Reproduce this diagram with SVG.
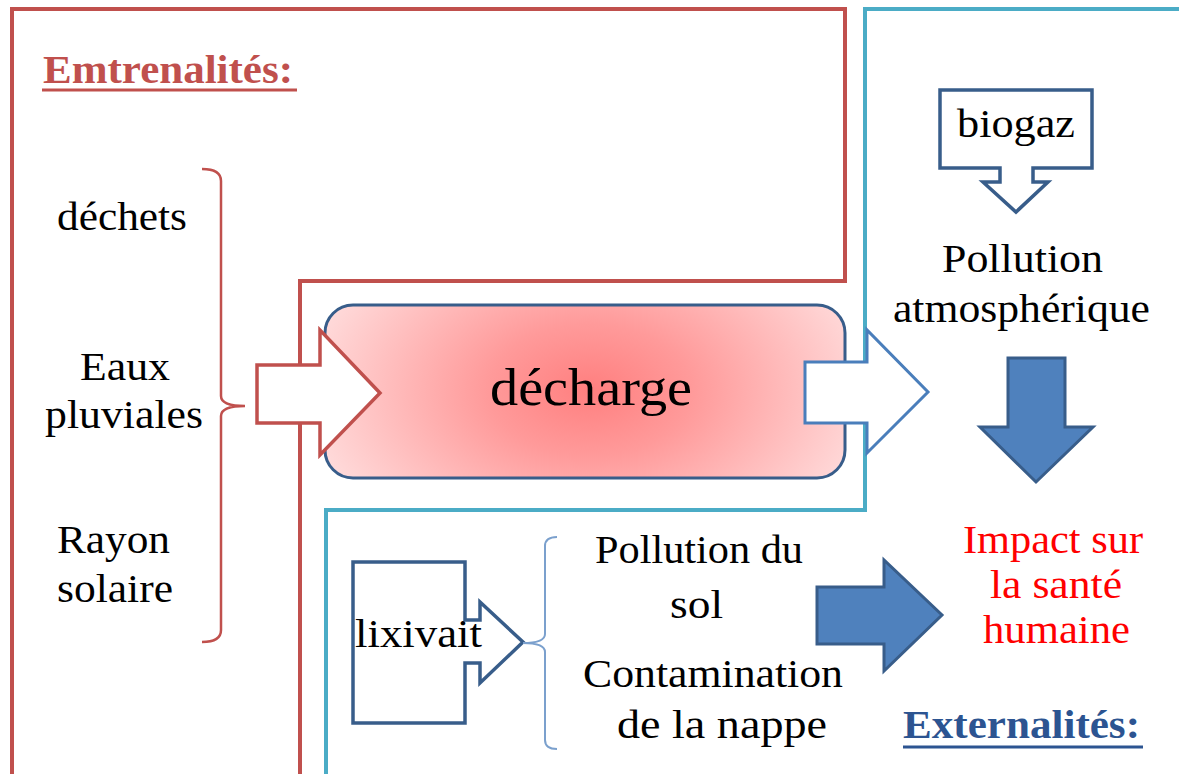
<svg xmlns="http://www.w3.org/2000/svg" width="1179" height="774" viewBox="0 0 1179 774">
  <style>
    .red { fill: #C0504D; }
    .impact { fill: #FF0000; }
    .ext { fill: #2C5491; }
    .hollowRed { fill: #fff; stroke: #C0504D; stroke-width: 3.5; }
    .hollowBlue { fill: #fff; stroke: #4A7EBB; stroke-width: 3; }
    .callout { fill: #fff; stroke: #385D8A; stroke-width: 3.5; }
    .solid { fill: #4F81BD; stroke: #385D8A; stroke-width: 3; }
  </style>
  <defs>
    <radialGradient id="g" gradientUnits="userSpaceOnUse" cx="590" cy="390" r="290" gradientTransform="translate(590 390) scale(1 0.65) translate(-590 -390)">
      <stop offset="0" stop-color="#FF7F7F"/>
      <stop offset="0.35" stop-color="#FF9A9A"/>
      <stop offset="1" stop-color="#FFDCDC"/>
    </radialGradient>
  </defs>
  <rect width="1179" height="774" fill="#fff"/>

  <g id="internal-zone">
    <path d="M12,776 L12,9 L845,9 L845,281 L300,281 L300,776" fill="none" stroke="#C0504D" stroke-width="4"/>
  </g>
  <g id="external-zone">
    <path d="M326,776 L326,510 L865,510 L865,9 L1181,9" fill="none" stroke="#4BACC6" stroke-width="4"/>
  </g>

  <g id="decharge">
    <rect x="325" y="305" width="520" height="173" rx="28" fill="url(#g)" stroke="#385D8A" stroke-width="3"/>
    <text font-family="Liberation Serif" font-size="52" x="490" y="405" textLength="202" lengthAdjust="spacingAndGlyphs">décharge</text>
  </g>

  <g id="title-internal">
    <text font-family="Liberation Serif" font-size="40" class="red" x="43" y="83" font-weight="bold" textLength="250" lengthAdjust="spacingAndGlyphs">Emtrenalités:</text>
    <line x1="42" y1="90" x2="297" y2="90" stroke="#C0504D" stroke-width="3"/>
  </g>

  <g id="inputs">
    <text font-family="Liberation Serif" font-size="40" x="57" y="230" textLength="130" lengthAdjust="spacingAndGlyphs">déchets</text>
    <text font-family="Liberation Serif" font-size="40" x="80" y="380" textLength="90" lengthAdjust="spacingAndGlyphs">Eaux</text>
    <text font-family="Liberation Serif" font-size="40" x="45" y="428" textLength="158" lengthAdjust="spacingAndGlyphs">pluviales</text>
    <text font-family="Liberation Serif" font-size="40" x="57" y="553" textLength="113" lengthAdjust="spacingAndGlyphs">Rayon</text>
    <text font-family="Liberation Serif" font-size="40" x="57" y="602" textLength="116" lengthAdjust="spacingAndGlyphs">solaire</text>
  </g>

  <g id="biogaz">
    <path class="callout" d="M940,90 L1092,90 L1092,168 L1033,168 L1033,182 L1048,182 L1016,212 L983,182 L1000,182 L1000,168 L940,168 Z"/>
    <text font-family="Liberation Serif" font-size="40" x="957" y="137" textLength="118" lengthAdjust="spacingAndGlyphs">biogaz</text>
  </g>

  <g id="pollution-atm">
    <text font-family="Liberation Serif" font-size="40" x="942" y="272" textLength="161" lengthAdjust="spacingAndGlyphs">Pollution</text>
    <text font-family="Liberation Serif" font-size="40" x="893" y="322" textLength="257" lengthAdjust="spacingAndGlyphs">atmosphérique</text>
  </g>

  <g id="lixivait">
    <path class="callout" d="M353,562 L465,562 L465,620 L480,620 L480,602 L523,642 L480,683 L480,663 L465,663 L465,723 L353,723 Z"/>
    <text font-family="Liberation Serif" font-size="40" x="355" y="647" textLength="127" lengthAdjust="spacingAndGlyphs">lixivait</text>
  </g>

  <g id="pollution-sol">
    <text font-family="Liberation Serif" font-size="40" x="595" y="563" textLength="208" lengthAdjust="spacingAndGlyphs">Pollution du</text>
    <text font-family="Liberation Serif" font-size="40" x="670" y="618" textLength="53" lengthAdjust="spacingAndGlyphs">sol</text>
  </g>

  <g id="contamination">
    <text font-family="Liberation Serif" font-size="40" x="583" y="687" textLength="260" lengthAdjust="spacingAndGlyphs">Contamination</text>
    <text font-family="Liberation Serif" font-size="40" x="617" y="738" textLength="210" lengthAdjust="spacingAndGlyphs">de la nappe</text>
  </g>

  <g id="impact">
    <text font-family="Liberation Serif" font-size="40" class="impact" x="963" y="553" textLength="180" lengthAdjust="spacingAndGlyphs">Impact sur</text>
    <text font-family="Liberation Serif" font-size="40" class="impact" x="990" y="598" textLength="132" lengthAdjust="spacingAndGlyphs">la santé</text>
    <text font-family="Liberation Serif" font-size="40" class="impact" x="983" y="643" textLength="147" lengthAdjust="spacingAndGlyphs">humaine</text>
  </g>

  <g id="title-external">
    <text font-family="Liberation Serif" font-size="40" class="ext" x="903" y="738" font-weight="bold" textLength="237" lengthAdjust="spacingAndGlyphs">Externalités:</text>
    <line x1="903" y1="747" x2="1143" y2="747" stroke="#2C5491" stroke-width="3"/>
  </g>

  <g id="connectors">
    <path d="M202,169 Q221,169 221,181 L221,396 Q221,406 245,406 Q221,406 221,416 L221,630 Q221,642 202,642" fill="none" stroke="#C0504D" stroke-width="2.5"/>
    <path class="hollowRed" d="M257,365 L320,365 L320,330 L380,393 L320,455 L320,423 L257,423 Z"/>
    <path class="hollowBlue" d="M805,362 L867,362 L867,330 L928,392 L867,453 L867,423 L805,423 Z"/>
    <path class="solid" d="M1008,358 L1065,358 L1065,427 L1093,427 L1036,482 L980,427 L1008,427 Z"/>
    <path d="M557,537 Q545,537 545,546 L545,634 Q545,643 523,643 Q545,643 545,652 L545,740 Q545,749 557,749" fill="none" stroke="#7BA0CD" stroke-width="2"/>
    <path class="solid" d="M817,587 L884,587 L884,560 L942,615 L884,671 L884,644 L817,644 Z"/>
  </g>
</svg>
